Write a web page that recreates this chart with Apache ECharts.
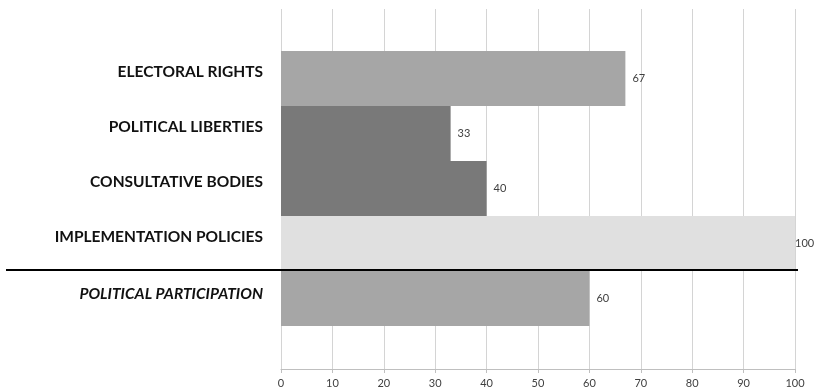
<!DOCTYPE html>
<html>
<head>
<meta charset="utf-8">
<script src="https://cdn.jsdelivr.net/npm/echarts@6/dist/echarts.min.js"></script>
<style>
  html, body { margin: 0; padding: 0; background: #fff; }
  #chart { width: 815px; height: 390px; }
</style>
</head>
<body>
<div id="chart"></div>
<script>
// Indicator scores (0-100), top to bottom
const categories = [
  'ELECTORAL RIGHTS',
  'POLITICAL LIBERTIES',
  'CONSULTATIVE BODIES',
  'IMPLEMENTATION POLICIES',
  'POLITICAL PARTICIPATION'
];
const scores = [67, 33, 40, 100, 60];
const barColors = ['#a6a6a6', '#797979', '#797979', '#e0e0e0', '#a6a6a6'];
const xTicks = [0, 10, 20, 30, 40, 50, 60, 70, 80, 90, 100];

const chart = echarts.init(document.getElementById('chart'), null, { renderer: 'canvas' });

const FONT = 'Lato, "Open Sans", sans-serif';
const labelBase = {
  color: '#111111',
  fontSize: 15.5,
  fontWeight: 'bold',
  fontFamily: FONT
};

const option = {
  animation: false,
  backgroundColor: '#ffffff',
  grid: [
    // full plot frame: gridlines and value axis
    { left: 281, right: 20, top: 9, bottom: 21 },
    // band holding the bars
    { left: 281, right: 20, top: 51, height: 275 }
  ],
  xAxis: [
    {
      gridIndex: 0,
      type: 'value',
      min: xTicks[0],
      max: xTicks[xTicks.length - 1],
      interval: 10,
      axisLine: { show: true, lineStyle: { color: '#bfbfbf', width: 1 } },
      axisTick: { show: true, length: 4, lineStyle: { color: '#bfbfbf' } },
      axisLabel: { color: '#404040', fontSize: 11, fontFamily: FONT, margin: 9 },
      splitLine: { show: true, lineStyle: { color: '#d4d4d4', width: 1 } }
    },
    {
      gridIndex: 1,
      type: 'value',
      min: xTicks[0],
      max: xTicks[xTicks.length - 1],
      show: false
    }
  ],
  yAxis: [
    {
      gridIndex: 0,
      type: 'value',
      show: false
    },
    {
      gridIndex: 1,
      type: 'category',
      inverse: true,
      data: categories,
      axisLine: { show: false },
      axisTick: { show: false },
      axisLabel: {
        margin: 18,
        formatter: (v, i) => (i === categories.length - 1 ? '{total|' + v + '}' : '{part|' + v + '}'),
        rich: {
          part: Object.assign({}, labelBase, { padding: [0, 0, 14, 0] }),
          total: Object.assign({}, labelBase, { fontStyle: 'italic', padding: [0, 0, 9, 0] })
        }
      }
    }
  ],
  series: [
    {
      type: 'bar',
      xAxisIndex: 1,
      yAxisIndex: 1,
      barWidth: '100%',
      barCategoryGap: 0,
      data: scores.map((v, i) => ({
        value: v,
        itemStyle: { color: barColors[i] },
        label: v >= 100 ? { distance: 0 } : {}
      })),
      label: {
        show: true,
        position: 'right',
        distance: 7,
        color: '#404040',
        fontSize: 11,
        fontFamily: FONT
      }
    }
  ]
};

chart.setOption(option);

// Separator between the component indicators and the overall score
const yTop = chart.convertToPixel({ xAxisIndex: 1, yAxisIndex: 1 }, [0, 3])[1];
const yBot = chart.convertToPixel({ xAxisIndex: 1, yAxisIndex: 1 }, [0, 4])[1];
const ySep = (yTop + yBot) / 2 - 1;
const xEnd = chart.convertToPixel({ xAxisIndex: 1, yAxisIndex: 1 }, [100, 0])[0] + 3;
chart.setOption({
  graphic: [{
    type: 'line',
    z: 100,
    shape: { x1: 6, y1: ySep, x2: xEnd, y2: ySep },
    style: { stroke: '#000000', lineWidth: 2 }
  }]
});
</script>
</body>
</html>
